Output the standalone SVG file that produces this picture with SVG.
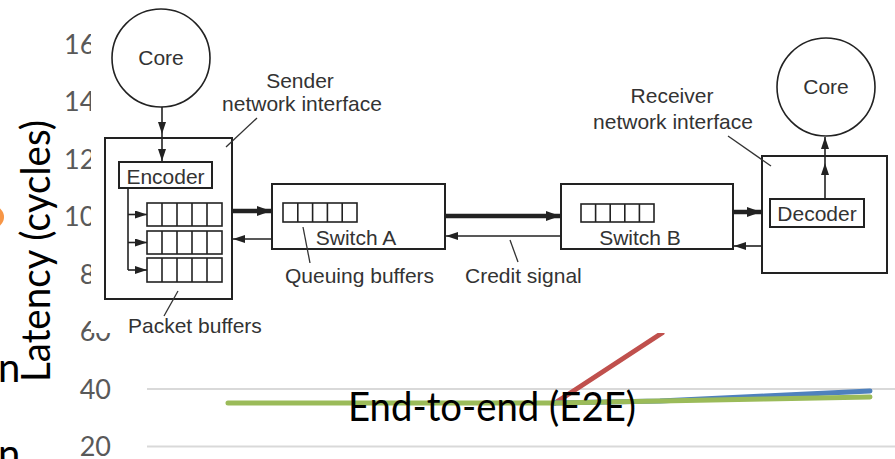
<svg xmlns="http://www.w3.org/2000/svg" width="895" height="459" viewBox="0 0 895 459">
  <defs>
    <style>
      .tick { font-family: Lato, "Liberation Sans", sans-serif; font-size: 27px; fill: #595959; text-anchor: end; }
      .big { font-family: Lato, "Liberation Sans", sans-serif; font-size: 40px; fill: #000; }
      .grid { stroke: #d9d9d9; stroke-width: 2; }
      .series { fill: none; stroke-width: 5; stroke-linecap: round; stroke-linejoin: round; }
      .lbl { font-family: "Liberation Sans", Arial, sans-serif; font-size: 21px; fill: #333; }
      .mid { text-anchor: middle; }
      .box { fill: #fff; stroke: #222; stroke-width: 2; }
      .cell { fill: #fff; stroke: #222; stroke-width: 1.6; }
      .thin { stroke: #222; stroke-width: 1.6; fill: none; }
      .thick { stroke: #222; stroke-width: 4.5; fill: none; }
      .lead { stroke: #333; stroke-width: 1.3; fill: none; }
    </style>
    <marker id="head" viewBox="0 0 12 8" refX="12" refY="4" markerWidth="12" markerHeight="8" markerUnits="userSpaceOnUse" orient="auto">
      <path d="M0,0 L12,4 L0,8 Z" fill="#222"/>
    </marker>
    <marker id="headT" viewBox="0 0 14 10" refX="14" refY="5" markerWidth="14" markerHeight="10" markerUnits="userSpaceOnUse" orient="auto">
      <path d="M0,0 L14,5 L0,10 Z" fill="#222"/>
    </marker>
  </defs>

  <rect width="895" height="459" fill="#fff"/>

  <!-- latency chart behind the diagram -->
  <g id="chart">
    <circle cx="-7" cy="217" r="11" fill="#F79646"/>
    <text class="big" x="-2" y="382">n</text>
    <text class="big" x="-2" y="468">n</text>
    <text class="big mid" transform="translate(50,251) rotate(-90)" textLength="262" lengthAdjust="spacingAndGlyphs">Latency (cycles)</text>
    <text class="tick" x="111" y="54">160</text>
    <text class="tick" x="111" y="111">140</text>
    <text class="tick" x="111" y="169">120</text>
    <text class="tick" x="111" y="226">100</text>
    <text class="tick" x="111" y="284">80</text>
    <text class="tick" x="111" y="341">60</text>
    <text class="tick" x="111" y="399">40</text>
    <text class="tick" x="111" y="456">20</text>
    <line class="grid" x1="147" y1="389" x2="895" y2="389"/>
    <line class="grid" x1="147" y1="446.5" x2="895" y2="446.5"/>
    <polyline class="series" stroke="#C0504D" points="555,403 662,333"/>
    <polyline class="series" stroke="#4F81BD" points="555,403 660,401 765,396 870,391"/>
    <polyline class="series" stroke="#9BBB59" points="228,403 340,403 450,403 555,403 660,401 765,399 870,397"/>
    <text class="big" x="348" y="421" textLength="288" lengthAdjust="spacingAndGlyphs">End-to-end (E2E)</text>
  </g>

  <!-- white panel holding the network diagram -->
  <rect x="91" y="0" width="804" height="333" fill="#fff"/>

  <g id="sender-core">
    <circle cx="161" cy="58" r="49" fill="#fff" stroke="#222" stroke-width="1.6"/>
    <text class="lbl mid" x="161" y="65">Core</text>
  </g>

  <g id="sender-ni">
    <rect class="box" x="105" y="138" width="127" height="161"/>
    <text class="lbl mid" x="300" y="88">Sender</text>
    <text class="lbl mid" x="302" y="111">network interface</text>
    <line class="lead" x1="257" y1="118" x2="226" y2="147"/>
  </g>

  <g id="encoder">
    <rect class="box" x="119" y="162" width="93" height="26"/>
    <text class="lbl mid" x="165.5" y="184">Encoder</text>
  </g>

  <g id="packet-buffers">
    <g>
      <rect class="cell" x="147" y="203" width="75" height="23"/>
      <path class="thin" d="M162,203V226M177,203V226M192,203V226M207,203V226"/>
      <rect class="cell" x="147" y="231" width="75" height="23"/>
      <path class="thin" d="M162,231V254M177,231V254M192,231V254M207,231V254"/>
      <rect class="cell" x="147" y="258" width="75" height="24"/>
      <path class="thin" d="M162,258V282M177,258V282M192,258V282M207,258V282"/>
    </g>
    <text class="lbl" x="128" y="333">Packet buffers</text>
    <line class="lead" x1="178" y1="291" x2="164" y2="316"/>
  </g>

  <g id="switch-a">
    <rect class="box" x="272" y="184" width="173" height="65"/>
    <rect class="cell" x="283" y="203" width="74" height="19"/>
    <path class="thin" d="M297.8,203V222M312.6,203V222M327.4,203V222M342.2,203V222"/>
    <text class="lbl mid" x="356" y="245">Switch A</text>
    <text class="lbl" x="285" y="283">Queuing buffers</text>
    <line class="lead" x1="303" y1="227" x2="310" y2="263"/>
  </g>

  <g id="switch-b">
    <rect class="box" x="561" y="184" width="172" height="65"/>
    <rect class="cell" x="581" y="204" width="73" height="18"/>
    <path class="thin" d="M595.6,204V222M610.2,204V222M624.8,204V222M639.4,204V222"/>
    <text class="lbl mid" x="640" y="245">Switch B</text>
  </g>

  <g id="receiver-ni">
    <rect class="box" x="762" y="156" width="125" height="117"/>
    <text class="lbl mid" x="672" y="103">Receiver</text>
    <text class="lbl mid" x="673" y="129">network interface</text>
    <line class="lead" x1="728" y1="136" x2="771" y2="166"/>
  </g>

  <g id="decoder">
    <rect class="box" x="770" y="199" width="94" height="28"/>
    <text class="lbl mid" x="817" y="221">Decoder</text>
  </g>

  <g id="receiver-core">
    <circle cx="826" cy="87" r="49" fill="#fff" stroke="#222" stroke-width="1.6"/>
    <text class="lbl mid" x="826" y="94">Core</text>
  </g>

  <g id="connectors">
    <!-- core to encoder -->
    <line class="thin" x1="162" y1="107" x2="162" y2="134" marker-end="url(#head)"/>
    <line class="thin" x1="162" y1="134" x2="162" y2="161" marker-end="url(#head)"/>
    <!-- encoder fan-out to packet buffers -->
    <path class="thin" d="M128,188V270"/>
    <line class="thin" x1="128" y1="214.5" x2="147" y2="214.5" marker-end="url(#head)"/>
    <line class="thin" x1="128" y1="242.5" x2="147" y2="242.5" marker-end="url(#head)"/>
    <line class="thin" x1="128" y1="270" x2="147" y2="270" marker-end="url(#head)"/>
    <!-- sender NI and switch A -->
    <line class="thick" x1="232" y1="211" x2="271" y2="211" marker-end="url(#headT)"/>
    <line class="thin" x1="272" y1="239" x2="233" y2="239" marker-end="url(#head)"/>
    <!-- switch A and switch B -->
    <line class="thick" x1="445" y1="216" x2="560" y2="216" marker-end="url(#headT)"/>
    <line class="thin" x1="561" y1="236" x2="446" y2="236" marker-end="url(#head)"/>
    <text class="lbl" x="465" y="283">Credit signal</text>
    <line class="lead" x1="510" y1="240" x2="518" y2="262"/>
    <!-- switch B and receiver NI -->
    <line class="thick" x1="733" y1="212" x2="761" y2="212" marker-end="url(#headT)"/>
    <line class="thin" x1="762" y1="246" x2="734" y2="246" marker-end="url(#head)"/>
    <!-- decoder to core -->
    <line class="thin" x1="825" y1="199" x2="825" y2="163" marker-end="url(#head)"/>
    <line class="thin" x1="825" y1="163" x2="825" y2="137" marker-end="url(#head)"/>
  </g>
</svg>
